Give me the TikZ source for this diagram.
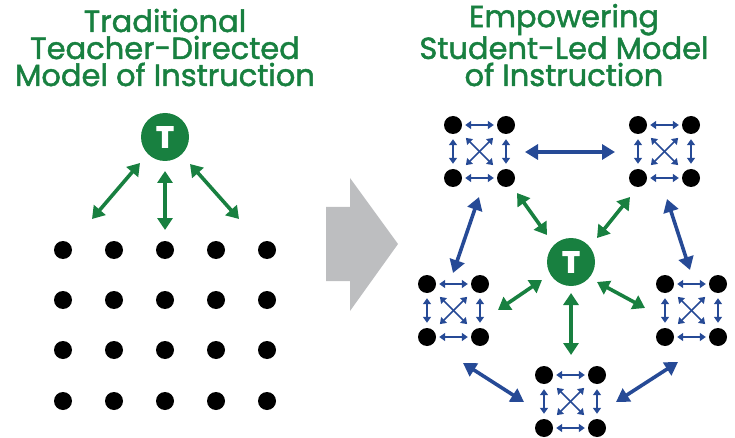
\documentclass[tikz,border=0pt]{standalone}
\usepackage{fontspec}
\setmainfont{Poppins}
\newfontfamily\headfont{Poppins}[FakeBold=1.6]
\newfontfamily\letterfont{Poppins}[FakeBold=3]
\usetikzlibrary{arrows.meta,calc}
\definecolor{tgreen}{RGB}{24,128,64}
\definecolor{tblue}{RGB}{38,74,150}
\definecolor{tgray}{RGB}{189,190,192}
\tikzset{
  title/.style={anchor=base,align=center,text=tgreen,font=\headfont\fontsize{30.5}{27}\selectfont,inner sep=0pt},
  pupil/.style={circle,fill=black,minimum size=18pt,inner sep=0pt},
  teacher/.style={circle,fill=tgreen,minimum size=48pt,inner sep=0pt,text=white,font=\letterfont\bfseries\fontsize{30}{30}\selectfont},
  bigg/.style={draw=tgreen,line width=3.6pt,{Triangle[length=12pt,width=15pt]}-{Triangle[length=12pt,width=15pt]}},
  bigb/.style={draw=tblue,line width=3.6pt,{Triangle[length=13pt,width=15pt]}-{Triangle[length=13pt,width=15pt]}},
  small/.style={draw=tblue,line width=1.7pt,{Triangle[length=6pt,width=8pt]}-{Triangle[length=6pt,width=8pt]}},
}
% one group of four pupils with links among them; #1 name, #2 x, #3 y of top-left pupil
\newcommand{\pupilgroup}[3]{%
  \node[pupil] (#1a) at (#2,#3) {};
  \node[pupil] (#1b) at ($(#2,#3)+(53,0)$) {};
  \node[pupil] (#1c) at ($(#2,#3)+(0,53)$) {};
  \node[pupil] (#1d) at ($(#2,#3)+(53,53)$) {};
  \draw[small,shorten <=3pt,shorten >=3pt] (#1a) -- (#1b);
  \draw[small,shorten <=3pt,shorten >=3pt] (#1c) -- (#1d);
  \draw[small,shorten <=5pt,shorten >=5pt] (#1a) -- (#1c);
  \draw[small,shorten <=5pt,shorten >=5pt] (#1b) -- (#1d);
  \draw[small,shorten <=9pt,shorten >=9pt] (#1a) -- (#1d);
  \draw[small,shorten <=9pt,shorten >=9pt] (#1b) -- (#1c);
}
\begin{document}
\begin{tikzpicture}[x=1pt,y=-1pt]
\useasboundingbox (0,0) rectangle (735,438);

% titles (anchored at the baseline of their last line)
\node[title] (ltitle) at (165,86) {Traditional\\Teacher-Directed\\Model of Instruction};
\node[title] (rtitle) at (564,86) {Empowering\\Student-Led Model\\of Instruction};

% teacher-directed side
\node[teacher] (T1) at (165,137) {T};
\foreach \i/\x in {1/63,2/114,3/165,4/216,5/267}
  \foreach \j/\y in {1/250,2/300,3/350,4/401}
    \node[pupil] (p\i\j) at (\x,\y) {};
\coordinate (t1l) at (140,163); \coordinate (s1l) at (92,219);
\coordinate (t1m) at (165,171); \coordinate (s1m) at (165,230);
\coordinate (t1r) at (190,164); \coordinate (s1r) at (239,219);
\draw[bigg] (t1l) -- (s1l);
\draw[bigg] (t1m) -- (s1m);
\draw[bigg] (t1r) -- (s1r);

% transition arrow
\fill[tgray] (326,207) -- (350,207) -- (350,178) -- (398,244) -- (350,311) -- (350,281) -- (326,281) -- cycle;

% student-led side
\node[teacher] (T2) at (571,262) {T};
\pupilgroup{gA}{453}{125}
\pupilgroup{gB}{638}{125}
\pupilgroup{gC}{427}{284}
\pupilgroup{gD}{665}{284}
\pupilgroup{gE}{544}{375}

% teacher to groups
\coordinate (a1) at (547,235); \coordinate (b1) at (517,193);
\coordinate (a2) at (597,238); \coordinate (b2) at (630,197);
\coordinate (a3) at (542,280); \coordinate (b3) at (498,310);
\coordinate (a4) at (597,282); \coordinate (b4) at (645,308);
\coordinate (a5) at (571,293); \coordinate (b5) at (571,355);
\foreach \k in {1,...,5} \draw[bigg] (a\k) -- (b\k);

% group to group
\coordinate (u1) at (525,152); \coordinate (v1) at (615,152);
\coordinate (u2) at (479,197); \coordinate (v2) at (453,273);
\coordinate (u3) at (667,199); \coordinate (v3) at (690,270);
\coordinate (u4) at (463,363); \coordinate (v4) at (524,402);
\coordinate (u5) at (678,362); \coordinate (v5) at (616,402);
\foreach \k in {1,...,5} \draw[bigb] (u\k) -- (v\k);
\end{tikzpicture}
\end{document}
